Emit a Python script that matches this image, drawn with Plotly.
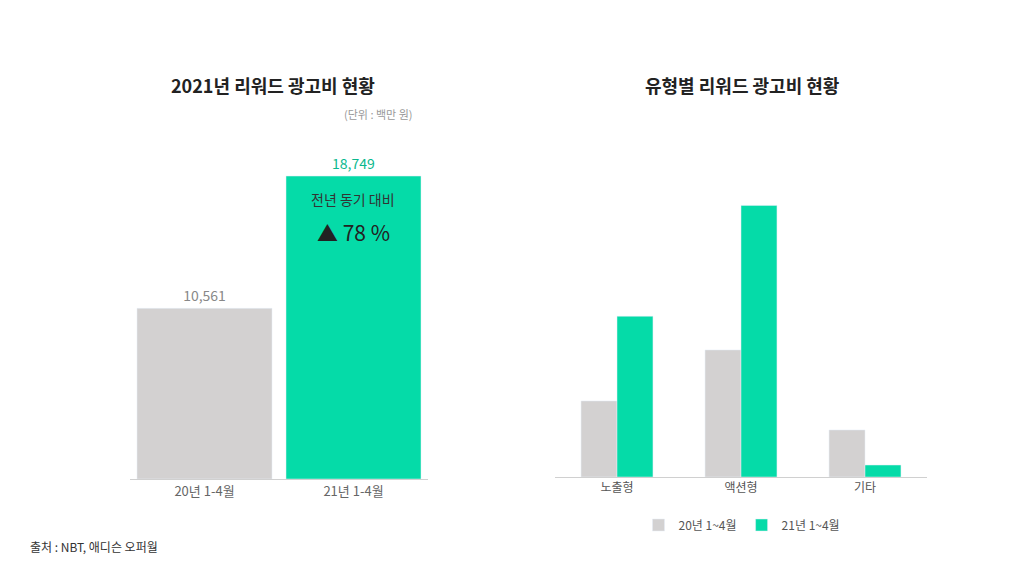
import plotly.graph_objects as go

# left chart: 2021 reward ad spend (unit: million won)
periods = ["20년 1-4월", "21년 1-4월"]
totals = [10561, 18749]

# right chart: by type
types = ["노출형", "액션형", "기타"]
y2020 = [3208, 5361, 1984]
y2021 = [6783, 11461, 505]

GRAY = "#d3d1d1"
GREEN = "#05dba8"
FONT = "Noto Sans CJK KR"
OFF = 8  # page body margin


def px(x):
    return (x - OFF) / 1024


def py(y):
    return 1 - (y - OFF) / 576


fig = go.Figure()
fig.add_trace(go.Bar(x=periods, y=totals, marker_color=[GRAY, GREEN], width=0.906,
                     text=[f"{v:,}" for v in totals], textposition="outside",
                     textfont=dict(color=["#888888", "#0bb88e"], size=14),
                     cliponaxis=False, showlegend=False, xaxis="x", yaxis="y"))
fig.add_trace(go.Bar(x=types, y=y2020, name="20년 1~4월", marker_color=GRAY,
                     xaxis="x2", yaxis="y2"))
fig.add_trace(go.Bar(x=types, y=y2021, name="21년 1~4월", marker_color=GREEN,
                     xaxis="x2", yaxis="y2"))


def note(text, x, y, size, color, xanchor="center"):
    return dict(text=text, x=px(x), y=py(y), xref="paper", yref="paper",
                xanchor=xanchor, yanchor="middle", showarrow=False,
                font=dict(size=size, color=color))


fig.update_layout(
    width=1024, height=576, margin=dict(l=0, r=0, t=0, b=0),
    paper_bgcolor="white", plot_bgcolor="white",
    font=dict(family=FONT, color="#555555"),
    barmode="group", bargap=0.42, bargroupgap=0,
    xaxis=dict(domain=[px(130), px(428)], showline=True, linecolor="#d0d0d0",
               tickfont=dict(size=13, color="#666666"), ticks="", anchor="y"),
    yaxis=dict(domain=[py(479), py(140)], range=[0, 20980], visible=False),
    xaxis2=dict(domain=[px(555), px(927)], showline=True, linecolor="#d0d0d0",
                tickfont=dict(size=12, color="#555555"), ticks="", anchor="y2"),
    yaxis2=dict(domain=[py(477), py(140)], range=[0, 14220], visible=False),
    legend=dict(orientation="h", x=px(742), xanchor="center", y=py(525),
                yanchor="middle", font=dict(size=12, color="#555555"),
                itemwidth=30, tracegroupgap=0),
    annotations=[
        note("<b>2021년 리워드 광고비 현황</b>", 273, 85, 18, "#222222"),
        note("<b>유형별 리워드 광고비 현황</b>", 742, 85, 18, "#222222"),
        note("(단위 : 백만 원)", 415, 114, 11, "#999999", xanchor="right"),
        note("전년 동기 대비", 353, 199, 14, "#333333"),
        note("▲ 78 %", 353, 232, 21, "#222222"),
        note("출처 : NBT, 애디슨 오퍼월", 28, 546, 12, "#333333", xanchor="left"),
    ],
)

fig.write_html("out.html")
